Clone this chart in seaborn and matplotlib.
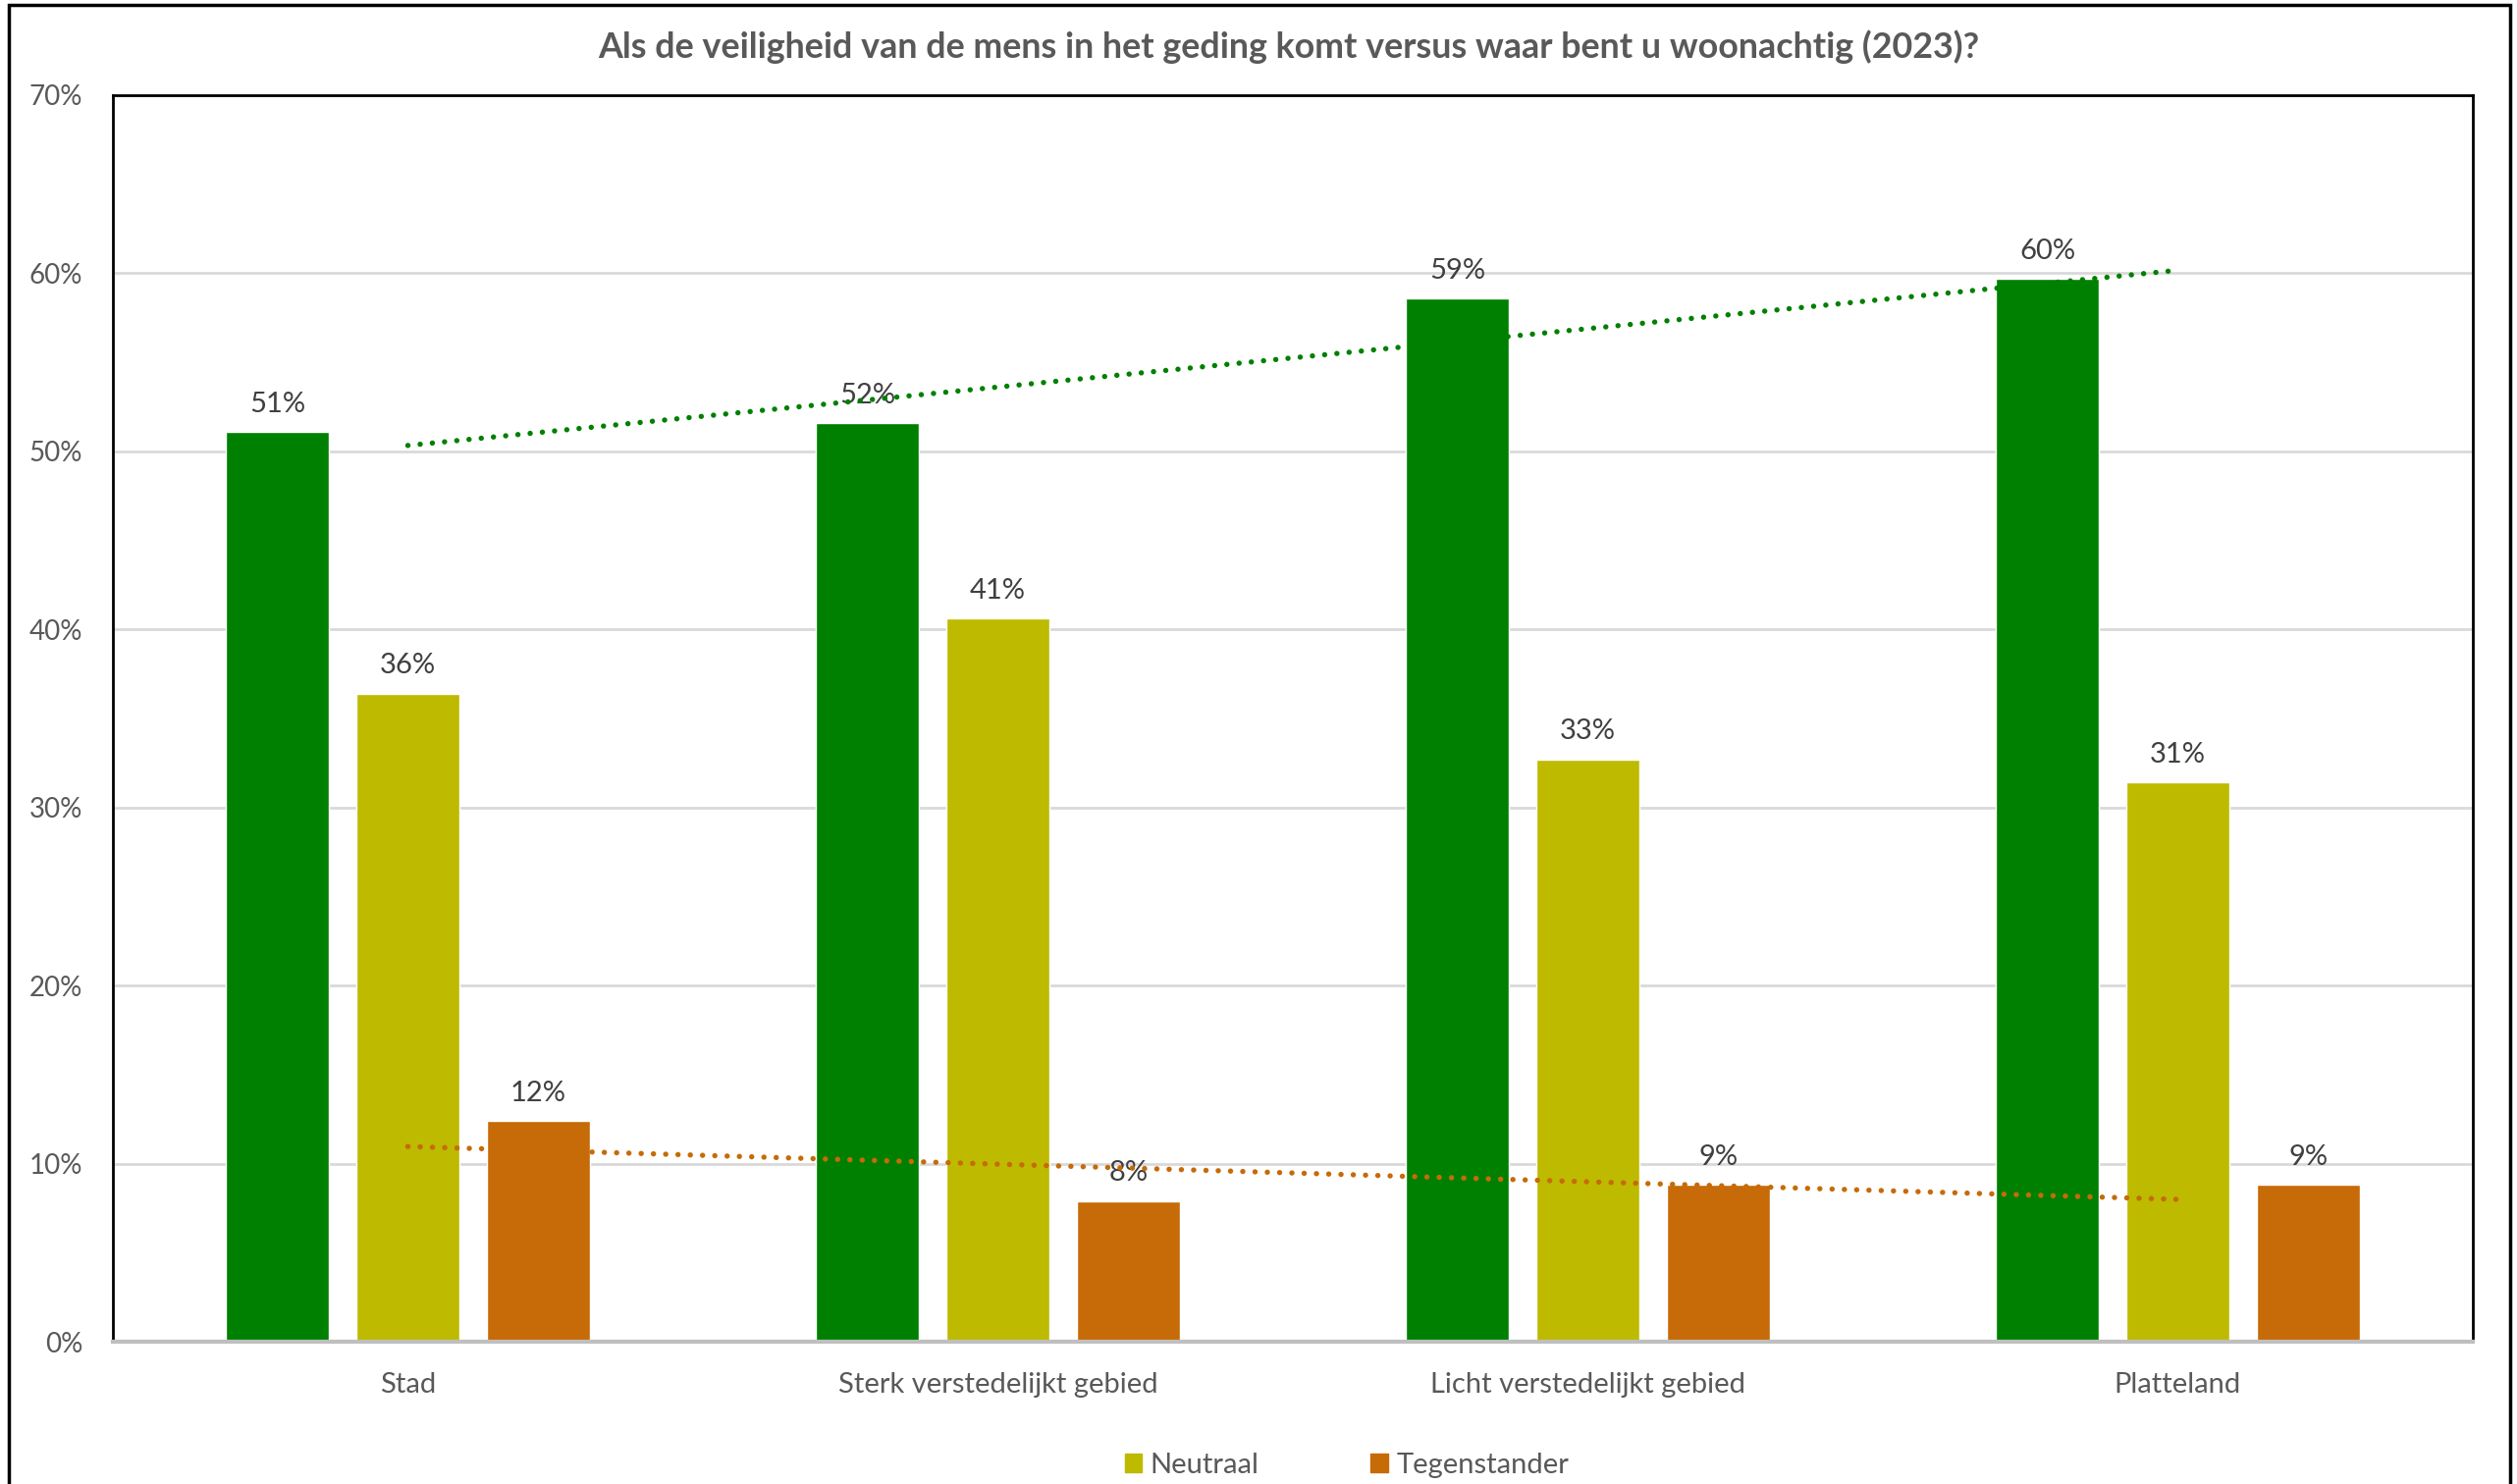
import numpy as np
import pandas as pd
import matplotlib
matplotlib.use("Agg")
import matplotlib.pyplot as plt
import matplotlib.patches as mpatches
from matplotlib.ticker import FuncFormatter
import seaborn as sns

# Data (percentages)
categories = ['Stad', 'Sterk verstedelijkt gebied', 'Licht verstedelijkt gebied', 'Platteland']
series = ['Voorstander', 'Neutraal', 'Tegenstander']
voorstander = [51.1, 51.6, 58.6, 59.7]
neutraal = [36.4, 40.6, 32.7, 31.4]
tegenstander = [12.4, 7.9, 8.8, 8.8]
title = 'Als de veiligheid van de mens in het geding komt versus waar bent u woonachtig (2023)?'

colors = {'Voorstander': '#008000', 'Neutraal': '#BDBA00', 'Tegenstander': '#C66B08'}

df = pd.DataFrame({
    'categorie': categories * 3,
    'reeks': ['Voorstander'] * 4 + ['Neutraal'] * 4 + ['Tegenstander'] * 4,
    'waarde': voorstander + neutraal + tegenstander,
})

sns.set_theme(style='white')
plt.rcParams['font.family'] = ['Lato', 'DejaVu Sans']

fig = plt.figure(figsize=(25.64, 15.12), dpi=100)
ax = fig.add_axes([115 / 2564, 1 - 1367 / 1512, (2519 - 115) / 2564, (1367 - 97) / 1512])

sns.barplot(data=df, x='categorie', y='waarde', hue='reeks', hue_order=series,
            palette=colors, width=0.664, gap=0.21, saturation=1, legend=False,
            ax=ax, zorder=2)

for cont in ax.containers:
    ax.bar_label(cont, labels=[f'{v:.0f}%' for v in cont.datavalues],
                 padding=11, fontsize=21, color='#404040')

# linear trendlines (Excel style)
xpos = np.arange(len(categories))
for vals, col in [(voorstander, colors['Voorstander']), (tegenstander, colors['Tegenstander'])]:
    k, b = np.polyfit(xpos, vals, 1)
    ax.plot(xpos, k * xpos + b, color=col, lw=3.9, linestyle=(0, (0.01, 2.3)),
            dash_capstyle='round', zorder=4)

ax.set_ylim(0, 70)
ax.set_xlim(-0.5, 3.5)
ax.set_yticks(np.arange(0, 71, 10))
ax.yaxis.set_major_formatter(FuncFormatter(lambda v, p: f'{v:.0f}%'))
ax.grid(axis='y', color='#D9D9D9', lw=2, zorder=0)
ax.set_axisbelow(True)
ax.set_xlabel('')
ax.set_ylabel('')
ax.tick_params(axis='y', length=0, pad=22, labelsize=20, labelcolor='#595959')
ax.tick_params(axis='x', length=0, pad=22, labelsize=21, labelcolor='#595959')

for side in ['left', 'top', 'right']:
    ax.spines[side].set_color('black')
    ax.spines[side].set_linewidth(2)
ax.spines['bottom'].set_color('#BFBFBF')
ax.spines['bottom'].set_linewidth(3)

fig.suptitle(title, x=1313 / 2564, y=1 - 48 / 1512, va='center',
             fontsize=25.8, fontweight='bold', color='#595959')

handles = [mpatches.Patch(color=colors['Neutraal'], label='Neutraal'),
           mpatches.Patch(color=colors['Tegenstander'], label='Tegenstander')]
fig.legend(handles=handles, loc='center', bbox_to_anchor=(1372 / 2564, 1 - 1493 / 1512),
           ncol=2, frameon=False, fontsize=21, labelcolor='#595959',
           handlelength=0.6, handleheight=0.6, handletextpad=0.3, columnspacing=3.9)

# outer chart border
fig.patches.append(mpatches.Rectangle((9 / 2564, -0.01), (2557 - 9) / 2564, 1.01 - 5 / 1512,
                                      transform=fig.transFigure, fill=False,
                                      edgecolor='black', lw=2.5))

fig.savefig('out.png', dpi=100)
